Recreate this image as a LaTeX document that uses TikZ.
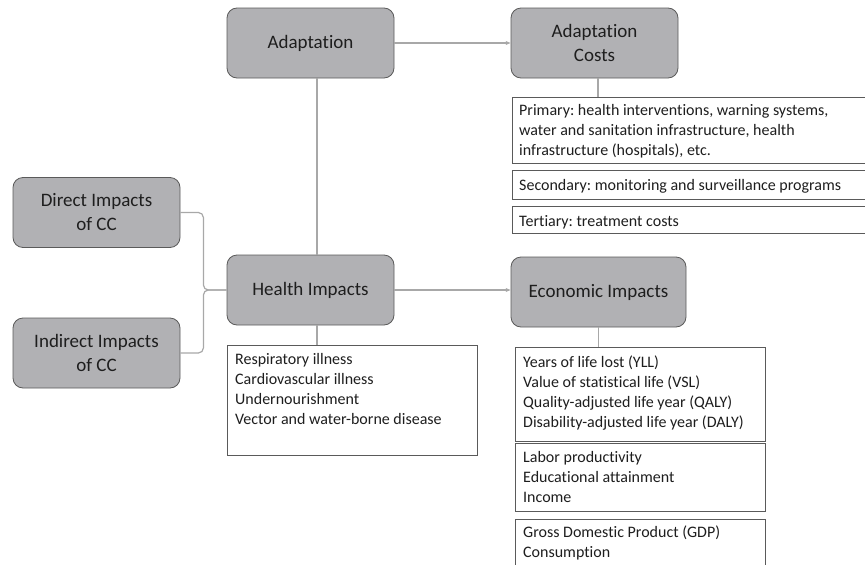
\documentclass[tikz,border=0pt]{standalone}
\usepackage{fontspec}
\setmainfont{Carlito}[Ligatures={NoCommon}]
\usetikzlibrary{arrows.meta}
\definecolor{boxfill}{RGB}{177,177,180}
\definecolor{boxedge}{RGB}{90,90,90}
\definecolor{linkgray}{RGB}{168,168,168}
\definecolor{ink}{RGB}{30,30,30}
\tikzset{
  topic/.style={draw=boxedge, line width=0.8pt, fill=boxfill, rounded corners=10pt,
    minimum width=167pt, minimum height=70pt, inner sep=0pt, align=center,
    text=ink, font=\fontsize{19}{24}\selectfont},
  listbox/.style={draw=boxedge, line width=0.8pt, fill=white, inner sep=0pt, anchor=north west},
  listtext/.style={anchor=base west, inner sep=0pt, text=ink, font=\fontsize{16}{20}\selectfont},
  link/.style={draw=linkgray, line width=1.2pt},
  linkarrow/.style={link, -{Stealth[length=5pt,width=4pt]}}
}
\newcommand{\lines}[1]{\begin{tabular}[t]{@{}l@{}}#1\end{tabular}}
\frenchspacing
\begin{document}
\begin{tikzpicture}[x=1pt,y=-1pt]
\useasboundingbox (0,0) rectangle (865,565);
\clip (0,0) rectangle (865,565);

% main topic boxes
\node[topic] (adapt)  at (310.5,43)  {Adaptation};
\node[topic] (costs)  at (594.5,43)  {Adaptation\\Costs};
\node[topic] (direct) at (96.5,212.5) {Direct Impacts\\of CC};
\node[topic] (indir)  at (96.5,353)  {Indirect Impacts\\of CC};
\node[topic] (health) at (310.5,290) {Health Impacts};
\node[topic, minimum width=175pt] (econ) at (598.5,292) {Economic Impacts};

% detail boxes
\node[listbox, minimum width=250pt, minimum height=110pt] (hlist) at (227,345) {};
\node[listbox, minimum width=370pt, minimum height=66pt] (prim) at (512,97) {};
\node[listbox, minimum width=370pt, minimum height=29pt] (sec) at (512,170) {};
\node[listbox, minimum width=370pt, minimum height=27pt] (ter) at (512,206) {};
\node[listbox, minimum width=250pt, minimum height=94pt] (yll) at (515,347) {};
\node[listbox, minimum width=250pt, minimum height=68pt] (labor) at (515,443) {};
\node[listbox, minimum width=250pt, minimum height=80pt] (gdp) at (515,519) {};

% detail texts
\node[listtext] (hlistT) at (235,364) {\lines{Respiratory illness\\Cardiovascular illness\\Undernourishment\\Vector and water-borne disease}};
\node[listtext] (primT) at (519,115) {\lines{Primary: health interventions, warning systems,\\water and sanitation infrastructure, health\\infrastructure (hospitals), etc.}};
\node[listtext] (secT) at (519,190) {Secondary: monitoring and surveillance programs};
\node[listtext] (terT) at (519,226) {Tertiary: treatment costs};
\node[listtext] (yllT) at (523,367) {\lines{Years of life lost (YLL)\\Value of statistical life (VSL)\\Quality-adjusted life year (QALY)\\Disability-adjusted life year (DALY)}};
\node[listtext] (laborT) at (523,462) {\lines{Labor productivity\\Educational attainment\\Income}};
\node[listtext] (gdpT) at (523,537) {\lines{Gross Domestic Product (GDP)\\Consumption}};

% connectors
\draw[linkarrow] (adapt.east) -- (costs.west);
\draw[linkarrow] (health.east) -- (health.east -| econ.west);
\draw[link] ([xshift=6.5pt]adapt.south) -- ([xshift=6.5pt]health.north);
\draw[link] ([xshift=6.5pt]health.south) -- ([xshift=6.5pt]health.south |- hlist.north);
\draw[link] ([xshift=3.5pt]costs.south) -- ([xshift=3.5pt]costs.south |- prim.north);
\draw[link] (econ.south) -- (econ.south |- yll.north);
\draw[link, rounded corners=5pt] (direct.east) -- ++(23,0) |- (health.west);
\draw[link, rounded corners=5pt] (indir.east) -- ++(23,0) |- (health.west);
\end{tikzpicture}
\end{document}
